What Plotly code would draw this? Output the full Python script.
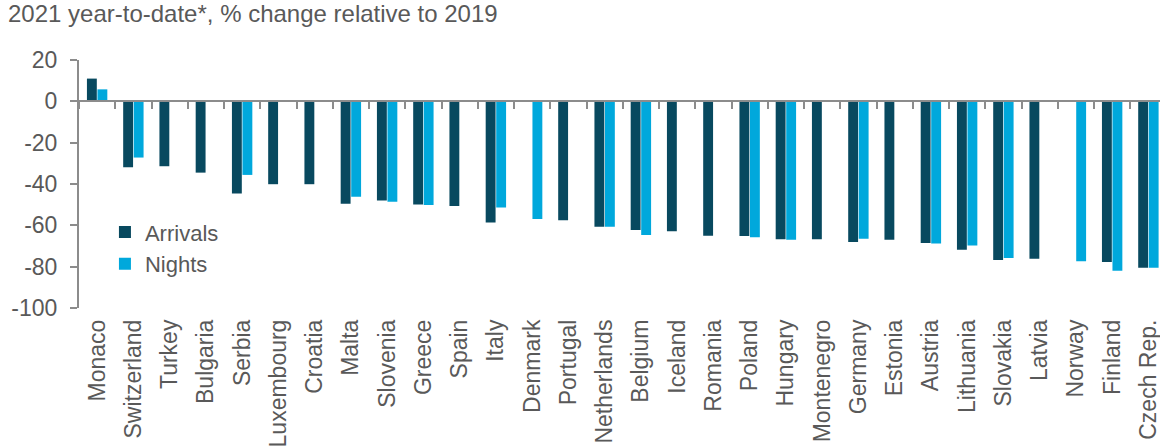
import plotly.graph_objects as go

# Tourism 2021 year-to-date vs 2019 (% change)
countries = [
    "Monaco", "Switzerland", "Turkey", "Bulgaria", "Serbia", "Luxembourg",
    "Croatia", "Malta", "Slovenia", "Greece", "Spain", "Italy", "Denmark",
    "Portugal", "Netherlands", "Belgium", "Iceland", "Romania", "Poland",
    "Hungary", "Montenegro", "Germany", "Estonia", "Austria", "Lithuania",
    "Slovakia", "Latvia", "Norway", "Finland", "Czech Rep.",
]
arrivals = [
    11.0, -31.9, -31.4, -34.5, -44.6, -40.1, -40.1, -49.6, -48.0, -49.9,
    -50.6, -58.6, None, -57.6, -60.7, -62.3, -62.9, -65.1, -65.2, -66.7,
    -66.7, -68.1, -67.0, -68.6, -71.8, -76.8, -76.2, None, -77.8, -80.5,
]
nights = [
    5.8, -27.2, None, None, -35.6, None, None, -46.2, -48.6, -50.2,
    None, -51.4, -56.9, None, -60.7, -64.7, None, None, -65.8, -67.0,
    None, -66.5, None, -68.8, -69.7, -75.8, None, -77.4, -82.0, -80.5,
]
y_ticks = [20, 0, -20, -40, -60, -80, -100]
y_tick_labels = ["20", "0", "-20", "-40", "-60", "-80", "-100"]

FONT = "Liberation Sans, Arial, sans-serif"
TEXT = "#595959"
AXIS = "#8c8c8c"
DARK = "#08495F"
LIGHT = "#00A8DC"

y_min, y_max = -100, 20
x_range = [-0.5, len(countries) - 0.68]

fig = go.Figure()
fig.add_trace(go.Bar(name="Arrivals", x=countries, y=arrivals,
                     marker=dict(color=DARK, line=dict(width=0))))
fig.add_trace(go.Bar(name="Nights", x=countries, y=nights,
                     marker=dict(color=LIGHT, line=dict(width=0))))
# invisible helper trace so the zero-line axis (x2) is rendered
fig.add_trace(go.Scatter(x=countries, y=[0] * len(countries), xaxis="x2",
                         mode="markers", marker=dict(opacity=0),
                         showlegend=False, hoverinfo="skip"))

fig.update_layout(
    width=1160, height=446,
    margin=dict(l=79, r=0, t=60, b=138),
    paper_bgcolor="white", plot_bgcolor="white",
    font=dict(family=FONT, size=22, color=TEXT),
    barmode="group", bargap=0.42, bargroupgap=0.06,
    title=dict(text="2021 year-to-date*, % change relative to 2019",
               x=8 / 1160, xref="container", xanchor="left",
               y=1 - 5 / 446, yref="container", yanchor="top",
               font=dict(family=FONT, size=24, color=TEXT)),
    legend=dict(x=0.024, y=0.39, xanchor="left", yanchor="top",
                bgcolor="rgba(0,0,0,0)", font=dict(size=22, color=TEXT),
                tracegroupgap=0),
    xaxis=dict(type="category", categoryorder="array", categoryarray=countries,
               range=x_range, showline=False, ticks="", showgrid=False,
               tickangle=-90, tickfont=dict(size=23, color=TEXT),
               ticklabelstandoff=6),
    xaxis2=dict(type="category", categoryorder="array", categoryarray=countries,
                range=x_range, overlaying="x", anchor="free",
                position=(0 - y_min) / (y_max - y_min), side="bottom",
                showline=True, linecolor=AXIS, linewidth=2,
                ticks="outside", tickson="boundaries", ticklen=7,
                tickwidth=2, tickcolor=AXIS, showticklabels=False,
                showgrid=False),
    yaxis=dict(range=[y_min, y_max], tickvals=y_ticks, ticktext=y_tick_labels,
               showgrid=False, zeroline=False, showline=True, linecolor=AXIS,
               linewidth=2, ticks="outside", ticklen=7, tickwidth=2,
               tickcolor=AXIS, ticklabelstandoff=8,
               tickfont=dict(size=23, color=TEXT)),
)

fig.write_html("out.html")
